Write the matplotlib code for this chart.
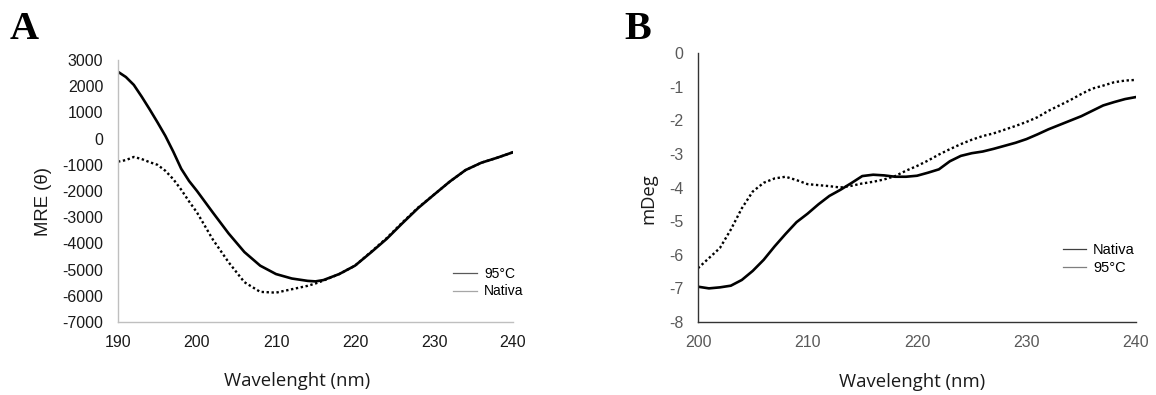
import matplotlib
matplotlib.use("Agg")
import matplotlib.pyplot as plt
from matplotlib.lines import Line2D

# ---- Panel A data ----
wl_a = [190, 191, 192, 193, 194, 195, 196, 197, 198, 199, 200, 202, 204, 206, 208, 210,
        212, 214, 215, 216, 218, 220, 222, 224, 226, 228, 230, 232, 234, 236, 238, 240]
a_95 = [2550, 2350, 2050, 1600, 1120, 620, 100, -500, -1150, -1620, -2000, -2820, -3620,
        -4330, -4850, -5170, -5340, -5430, -5450, -5400, -5170, -4850, -4350, -3830,
        -3230, -2650, -2140, -1640, -1200, -920, -730, -520]
a_nat = [-880, -820, -700, -780, -900, -1000, -1230, -1550, -1950, -2400, -2820, -3850,
         -4720, -5480, -5850, -5880, -5750, -5620, -5530, -5420, -5170, -4850, -4330,
         -3800, -3200, -2630, -2140, -1640, -1200, -920, -730, -520]

# ---- Panel B data ----
wl_b = list(range(200, 241))
b_nat = [-6.95, -7.0, -6.97, -6.92, -6.75, -6.48, -6.15, -5.75, -5.38, -5.03, -4.78,
         -4.5, -4.25, -4.07, -3.87, -3.66, -3.62, -3.64, -3.68, -3.68, -3.65, -3.56,
         -3.46, -3.22, -3.06, -2.98, -2.93, -2.85, -2.76, -2.67, -2.56, -2.42, -2.27,
         -2.14, -2.01, -1.88, -1.72, -1.56, -1.46, -1.37, -1.31]
b_95 = [-6.4, -6.1, -5.8, -5.25, -4.62, -4.12, -3.86, -3.73, -3.68, -3.78, -3.9,
        -3.93, -3.96, -4.0, -3.95, -3.88, -3.83, -3.76, -3.66, -3.5, -3.36, -3.2,
        -3.02, -2.86, -2.71, -2.58, -2.47, -2.39, -2.28, -2.17, -2.05, -1.91, -1.72,
        -1.56, -1.4, -1.22, -1.06, -0.97, -0.87, -0.82, -0.8]

xticks_a = [190, 200, 210, 220, 230, 240]
yticks_a = list(range(-7000, 3001, 1000))
xticks_b = [200, 210, 220, 230, 240]
yticks_b = list(range(-8, 1))

tick_font = "Liberation Sans"
title_font = "Open Sans"

W, H = 1156, 395
fig = plt.figure(figsize=(W / 100, H / 100), dpi=100)

def fx(px):
    return px / W

def fy(py):
    return 1 - py / H

axA = fig.add_axes([fx(118), fy(322), fx(513 - 118), (322 - 60) / H])
axB = fig.add_axes([fx(698), fy(322), fx(1136 - 698), (322 - 53) / H])

def style(ax, tick_color, spine_col):
    for s in ["top", "right"]:
        ax.spines[s].set_visible(False)
    for s in ["left", "bottom"]:
        ax.spines[s].set_color(spine_col)
        ax.spines[s].set_linewidth(1.0)
    ax.tick_params(axis="y", length=0, pad=10.5, labelcolor=tick_color)
    ax.tick_params(axis="x", length=0, pad=9.5, labelcolor=tick_color)
    for lab in ax.get_xticklabels() + ax.get_yticklabels():
        lab.set_fontfamily(tick_font)

# Panel A
axA.plot(wl_a, a_95, color="black", lw=1.9)
axA.plot(wl_a, a_nat, color="black", lw=1.7, linestyle=(0, (1, 1.1)))
axA.set_xlim(190, 240)
axA.set_ylim(-7000, 3000)
axA.set_xticks(xticks_a)
axA.set_yticks(yticks_a)
axA.set_xticklabels([str(v) for v in xticks_a], fontsize=11.5)
axA.set_yticklabels([str(v) for v in yticks_a], fontsize=11.5)
style(axA, "#1a1a1a", "#bfbfbf")
axA.set_xlabel("Wavelenght (nm)", fontfamily=title_font, fontsize=13.3, color="#1a1a1a",
               va="baseline")
axA.xaxis.set_label_coords(fx(297), fy(386), transform=fig.transFigure)
axA.set_ylabel("MRE (θ)", fontfamily=tick_font, fontsize=13.3, color="#1a1a1a", va="center")
axA.yaxis.set_label_coords(fx(43), fy(202), transform=fig.transFigure)
hA = [Line2D([], [], color="#595959", lw=0.9), Line2D([], [], color="#a6a6a6", lw=0.9)]
axA.legend(hA, ["95°C", "Nativa"], loc="upper left", bbox_to_anchor=(fx(453), fy(267)),
           bbox_transform=fig.transFigure, frameon=False, borderpad=0, borderaxespad=0,
           handlelength=1.75, handletextpad=0.5, labelspacing=0.25,
           prop={"family": tick_font, "size": 10})

# Panel B
axB.plot(wl_b, b_nat, color="black", lw=1.9)
axB.plot(wl_b, b_95, color="black", lw=1.7, linestyle=(0, (1, 1.1)))
axB.set_xlim(200, 240)
axB.set_ylim(-8, 0)
axB.set_xticks(xticks_b)
axB.set_yticks(yticks_b)
axB.set_xticklabels([str(v) for v in xticks_b], fontsize=11.5)
axB.set_yticklabels([str(v) for v in yticks_b], fontsize=11.5)
style(axB, "#595959", "#333333")
axB.set_xlabel("Wavelenght (nm)", fontfamily=title_font, fontsize=13.3, color="#1a1a1a",
               va="baseline")
axB.xaxis.set_label_coords(fx(912), fy(387), transform=fig.transFigure)
axB.set_ylabel("mDeg", fontfamily=title_font, fontsize=13.3, color="#1a1a1a", va="center")
axB.yaxis.set_label_coords(fx(648), fy(199), transform=fig.transFigure)
hB = [Line2D([], [], color="#404040", lw=0.9), Line2D([], [], color="#7f7f7f", lw=0.9)]
axB.legend(hB, ["Nativa", "95°C"], loc="upper left", bbox_to_anchor=(fx(1063), fy(243)),
           bbox_transform=fig.transFigure, frameon=False, borderpad=0, borderaxespad=0,
           handlelength=1.55, handletextpad=0.5, labelspacing=0.3,
           prop={"family": tick_font, "size": 10.5})

fig.text(fx(10), fy(39), "A", fontfamily="Liberation Serif", fontweight="bold",
         fontsize=29, va="baseline", ha="left")
fig.text(fx(624), fy(39), "B", fontfamily="Liberation Serif", fontweight="bold",
         fontsize=29, va="baseline", ha="left")

fig.savefig("out.png", dpi=100)
